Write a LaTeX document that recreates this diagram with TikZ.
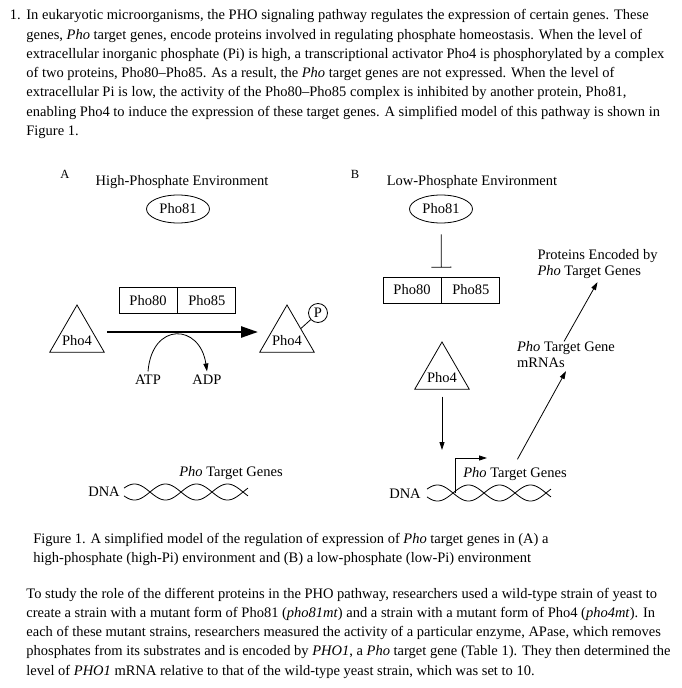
\documentclass[tikz,border=0pt]{standalone}
\usepackage{fontspec}
\setmainfont{Liberation Serif}
\usetikzlibrary{positioning,shapes.geometric,arrows.meta}

% Double helix: first crossing at #1, axis at #2.
\newcommand{\dnahelix}[2]{%
    \draw[domain=-26:98,samples=125]
        plot ({#1+\x},{#2-8*sin(5.80645*\x)});
    \draw[domain=-26:98,samples=125]
        plot ({#1+\x},{#2+8*sin(5.80645*\x)});
}

\begin{document}
\begin{tikzpicture}[x=1bp,y=-1bp,line width=0.8bp,
    font=\fontsize{14.5bp}{19.25bp}\selectfont,
    >={Triangle[length=8bp,width=5bp]},
    para/.style={anchor=base west,align=left,inner sep=0pt},
    tag/.style={align=left,font=\fontsize{14.5bp}{15.5bp}\selectfont},
    prot/.style={draw,ellipse,minimum width=63bp,minimum height=28bp,inner sep=0pt},
    half/.style={draw,rectangle,minimum width=58bp,minimum height=26bp,inner sep=0pt},
    tri/.style={draw,regular polygon,regular polygon sides=3,minimum size=63bp,inner sep=0pt},
    phos/.style={draw,circle,minimum size=19bp,inner sep=0pt}]
    \useasboundingbox (0,0) rectangle (682,688);

    % Question text (anchored on the baseline of its last line).
    \node[para] (num) at (9.5,20) {1.};
    \node[para] (intro) at (26,135.5) {In eukaryotic microorganisms, the PHO signaling pathway regulates the expression of certain genes. These\\
        genes, \textit{Pho} target genes, encode proteins involved in regulating phosphate homeostasis. When the level of\\
        extracellular inorganic phosphate (Pi) is high, a transcriptional activator Pho4 is phosphorylated by a complex\\
        of two proteins, Pho80--Pho85. As a result, the \textit{Pho} target genes are not expressed. When the level of\\
        extracellular Pi is low, the activity of the Pho80--Pho85 complex is inhibited by another protein, Pho81,\\
        enabling Pho4 to induce the expression of these target genes. A simplified model of this pathway is shown in\\
        Figure 1.};

    % Panel A: high phosphate.
    \node[font=\fontsize{12.5bp}{14bp}\selectfont] (laba) at (65,174) {A};
    \node (titlea) at (182,182) {High-Phosphate Environment};
    \node[prot] (pho81a) at (178,209) {Pho81};
    \node[half] (pho80a) at (148,300.5) {Pho80};
    \node[half,right=0pt of pho80a] (pho85a) {Pho85};
    \node[tri,label={[yshift=-4bp]center:Pho4}] (pho4a) at (77,336.5) {};
    \node[tri,label={[yshift=-4bp]center:Pho4}] (pho4p) at (287,336.5) {};
    \node[phos] (pa) at (318,313) {P};
    \draw (pa) -- (pho4p.side 3);
    \draw[line width=2.5bp,-{Triangle[length=17bp,width=11bp]},
        shorten <=30bp,shorten >=29bp]
        ([yshift=4.5bp]pho4a.center) -- ([yshift=4.5bp]pho4p.center);
    \node (atp) at (148,380) {ATP};
    \node (adp) at (207,380) {ADP};
    \draw[->] (atp.north) .. controls +(4,-50) and +(-7,-48) .. (adp.north);
    \node (dnaa) at (104,492) {DNA};
    \dnahelix{150}{492}
    \node (genesa) at (231,473.5) {\textit{Pho} Target Genes};

    % Panel B: low phosphate.
    \node[font=\fontsize{12.5bp}{14bp}\selectfont] (labb) at (355,174) {B};
    \node (titleb) at (472,182) {Low-Phosphate Environment};
    \node[prot] (pho81b) at (441,209) {Pho81};
    \node[half] (pho80b) at (412,290) {Pho80};
    \node[half,right=0pt of pho80b] (pho85b) {Pho85};
    \draw[-{Bar[width=20bp]},shorten <=11bp,shorten >=9bp]
        (pho81b) -- (pho80b.north east);
    \node[tri,label={[yshift=-4bp]center:Pho4}] (pho4b) at (442,373.5) {};
    \coordinate (bind) at (442,450);
    \draw[->,shorten <=7bp] (pho4b.south) -- (bind);
    \node (dnab) at (405,494) {DNA};
    \dnahelix{453}{493}
    \coordinate (tss) at (455,493);
    \draw[->] (tss) |- +(32,-35);
    \node (genesb) at (515,474) {\textit{Pho} Target Genes};
    \node[tag] (mrna) at (566,354.5) {\textit{Pho} Target Gene\\mRNAs};
    \node[tag] (prot) at (597.5,264) {Proteins Encoded by\\\textit{Pho} Target Genes};
    \draw[->,shorten <=5bp] (genesb.north) -- (mrna.south);
    \draw[->,shorten <=-4bp] (mrna.north) -- (prot.south);

    % Caption and follow-up text.
    \node[para] (caption) at (33,562.5) {Figure 1. A simplified model of the regulation of expression of \textit{Pho} target genes in (A) a\\
        high-phosphate (high-Pi) environment and (B) a low-phosphate (low-Pi) environment};
    \node[para] (study) at (26,675) {To study the role of the different proteins in the PHO pathway, researchers used a wild-type strain of yeast to\\
        create a strain with a mutant form of Pho81 (\textit{pho81mt}) and a strain with a mutant form of Pho4 (\textit{pho4mt}). In\\
        each of these mutant strains, researchers measured the activity of a particular enzyme, APase, which removes\\
        phosphates from its substrates and is encoded by \textit{PHO1}, a \textit{Pho} target gene (Table 1). They then determined the\\
        level of \textit{PHO1} mRNA relative to that of the wild-type yeast strain, which was set to 10.};
\end{tikzpicture}
\end{document}
